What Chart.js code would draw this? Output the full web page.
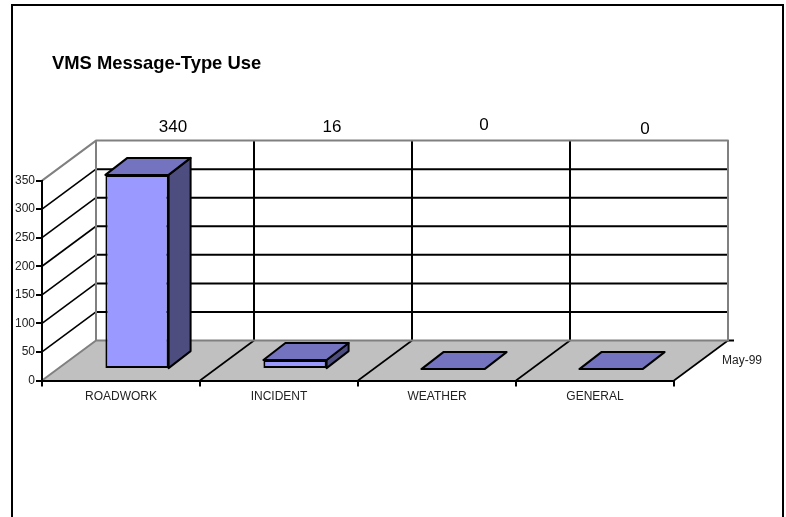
<!DOCTYPE html>
<html>
<head>
<meta charset="utf-8">
<title>VMS Message-Type Use</title>
<script src="https://cdn.jsdelivr.net/npm/chart.js"></script>
<style>
  html, body { margin: 0; padding: 0; background: #fff; overflow: hidden; }
  canvas { display: block; }
</style>
</head>
<body>
<canvas id="vms-use" width="786" height="517"></canvas>
<script>
const categories = ["ROADWORK", "INCIDENT", "WEATHER", "GENERAL"];
const uses = [340, 16, 0, 0];
const seriesName = "May-99";
const titleText = "VMS Message-Type Use";

const FONT = "'Liberation Sans', Arial, sans-serif";
const textColor = "#222";
const frontColor = "#9999FF";
const topColor = "#7373BF";
const sideColor = "#4D4D80";
const floorColor = "#C0C0C0";
const wallColor = "#808080";

// fake 3d: how far the back wall, and the bars, sit behind the axis plane
const wallDepth = { x: 54, y: -40 };
const barShift = { x: 16, y: -11.4 };
const barDepth = { x: 22, y: -17 };
// the original's value labels are hand placed above the back wall
const labelNudge = [{ x: 36, y: 127 }, { x: 37, y: 127 }, { x: 31, y: 125 }, { x: 34, y: 129 }];

function line(ctx, x1, y1, x2, y2, color, width) {
  ctx.strokeStyle = color;
  ctx.lineWidth = width;
  ctx.beginPath();
  ctx.moveTo(x1, y1);
  ctx.lineTo(x2, y2);
  ctx.stroke();
}

function poly(ctx, pts, fill) {
  ctx.beginPath();
  pts.forEach((p, i) => (i ? ctx.lineTo(p[0], p[1]) : ctx.moveTo(p[0], p[1])));
  ctx.closePath();
  ctx.fillStyle = fill;
  ctx.fill();
  ctx.strokeStyle = "#000";
  ctx.lineWidth = 2;
  ctx.lineJoin = "round";
  ctx.stroke();
}

const boxPlugin = {
  id: "box3d",
  beforeDraw(chart) {
    const { ctx, chartArea: a, scales } = chart;
    const dx = wallDepth.x, dy = wallDepth.y;
    ctx.save();

    // page frame, open at the bottom
    ctx.strokeStyle = "#000";
    ctx.lineWidth = 2;
    ctx.beginPath();
    ctx.moveTo(12, 517);
    ctx.lineTo(12, 5);
    ctx.lineTo(783, 5);
    ctx.lineTo(783, 517);
    ctx.stroke();

    // floor
    ctx.beginPath();
    ctx.moveTo(a.left, a.bottom);
    ctx.lineTo(a.right, a.bottom);
    ctx.lineTo(a.right + dx, a.bottom + dy);
    ctx.lineTo(a.left + dx, a.bottom + dy);
    ctx.closePath();
    ctx.fillStyle = floorColor;
    ctx.fill();

    // value gridlines, side wall and back wall
    scales.y.ticks.forEach(t => {
      if (t.value === 0 || t.value === scales.y.max) return;
      const y = scales.y.getPixelForValue(t.value);
      line(ctx, a.left, y, a.left + dx, y + dy, "#000", 1.6);
      line(ctx, a.left + dx, y + dy, a.right + dx, y + dy, "#000", 2);
    });

    // category dividers on back wall and floor
    const step = (a.right - a.left) / categories.length;
    categories.forEach((c, i) => {
      const x = a.left + step * (i + 1);
      if (i < categories.length - 1) line(ctx, x + dx, a.top + dy, x + dx, a.bottom + dy, "#000", 2);
      line(ctx, x, a.bottom, x + dx, a.bottom + dy, "#000", 1.6);
    });
    line(ctx, a.right + dx, a.bottom + dy, a.right + dx + 6, a.bottom + dy, "#000", 2);

    // grey outline of the box
    ctx.lineJoin = "round";
    ctx.strokeStyle = wallColor;
    ctx.lineWidth = 2;
    ctx.beginPath();
    ctx.moveTo(a.left, a.top);
    ctx.lineTo(a.left + dx, a.top + dy);
    ctx.lineTo(a.right + dx, a.top + dy);
    ctx.lineTo(a.right + dx, a.bottom + dy);
    ctx.lineTo(a.left + dx, a.bottom + dy);
    ctx.lineTo(a.left, a.bottom);
    ctx.moveTo(a.left + dx, a.top + dy);
    ctx.lineTo(a.left + dx, a.bottom + dy);
    ctx.stroke();
    ctx.restore();
  },
  beforeDatasetsDraw(chart) {
    chart.ctx.save();
    chart.ctx.translate(barShift.x, barShift.y);
  },
  afterDatasetsDraw(chart) {
    const { ctx } = chart;
    ctx.restore();
    ctx.save();
    chart.getDatasetMeta(0).data.forEach((bar, i) => {
      const l = bar.x - bar.width / 2 + barShift.x;
      const r = bar.x + bar.width / 2 + barShift.x;
      const t = bar.y + barShift.y;
      const b = bar.base + barShift.y;
      if (b - t > 0.5) {
        poly(ctx, [[r, t], [r + barDepth.x, t + barDepth.y], [r + barDepth.x, b + barDepth.y], [r, b]], sideColor);
      }
      poly(ctx, [[l, t], [l + barDepth.x, t + barDepth.y], [r + barDepth.x, t + barDepth.y], [r, t]], topColor);

      // value label
      ctx.fillStyle = "#000";
      ctx.font = "17px " + FONT;
      ctx.textAlign = "center";
      ctx.textBaseline = "middle";
      ctx.fillText(String(uses[i]), bar.x + barShift.x + labelNudge[i].x, labelNudge[i].y);
    });

    // series name on the depth axis
    const a = chart.chartArea;
    ctx.fillStyle = textColor;
    ctx.font = "12px " + FONT;
    ctx.textAlign = "left";
    ctx.textBaseline = "middle";
    ctx.fillText(seriesName, a.right + 48, a.bottom - 20);
    ctx.restore();
  },
  afterLayout(chart) {
    // title sits left of the plot's start, native align can't do it
    chart.titleBlock.left = 52;
  }
};

new Chart("vms-use", {
  type: "bar",
  data: {
    labels: categories,
    datasets: [{
      label: seriesName,
      data: uses,
      backgroundColor: frontColor,
      borderColor: "#000",
      borderWidth: 2,
      borderSkipped: false,
      barPercentage: 0.4,
      categoryPercentage: 1,
      clip: false
    }]
  },
  options: {
    responsive: false,
    animation: false,
    devicePixelRatio: 1,
    layout: { padding: { top: 0, left: 0, right: 112, bottom: 0 } },
    plugins: {
      legend: { display: false },
      tooltip: { enabled: false },
      title: {
        display: true,
        text: titleText,
        align: "start",
        color: "#000",
        font: { family: FONT, size: 18.4, weight: "bold", lineHeight: 1.2 },
        padding: { top: 52.5, bottom: 106 }
      }
    },
    scales: {
      x: {
        afterFit(axis) { axis.height = 136.5; },
        grid: { display: true, drawOnChartArea: false, offset: true, color: "#000", lineWidth: 2, tickLength: 6 },
        border: { color: "#000", width: 2 },
        ticks: { color: textColor, font: { family: FONT, size: 12 }, padding: 3, maxRotation: 0, autoSkip: false }
      },
      y: {
        min: 0,
        max: 350,
        afterFit(axis) { axis.width = 42; },
        grid: { display: true, drawOnChartArea: false, color: "#000", lineWidth: 2, tickLength: 6 },
        border: { color: "#000", width: 2 },
        ticks: { stepSize: 50, color: textColor, font: { family: FONT, size: 12 }, padding: 1 }
      }
    }
  },
  plugins: [boxPlugin]
});
</script>
</body>
</html>
